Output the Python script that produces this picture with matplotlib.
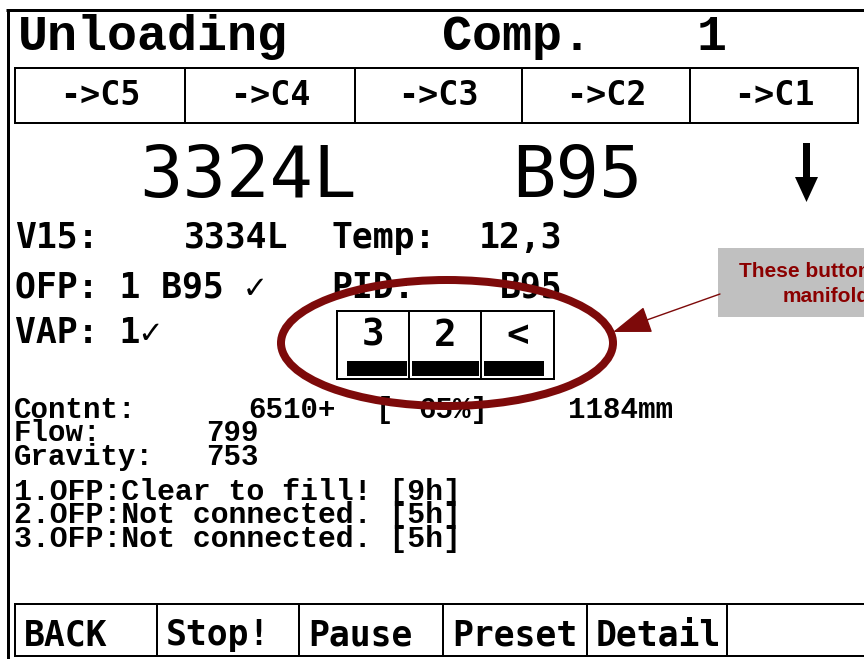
import re
import matplotlib
matplotlib.use("Agg")
import matplotlib.pyplot as plt
from matplotlib.patches import Rectangle, Ellipse, FancyArrowPatch, ArrowStyle
from matplotlib import font_manager

# ---------------- data (screen content) ----------------
title_text = "Unloading Comp. 1"
tab_labels = ["->C5", "->C4", "->C3", "->C2", "->C1"]
volume_text = "3324L"
product_text = "B95"
info_lines = ["V15:    3334L  Temp:  12,3",
              "OFP: 1 B95 \u2713   PID:    B95",
              "VAP: 1\u2713"]
manifold_buttons = ["3", "2", "<"]
status_lines = ["Contnt:    6510+ [ 65%]   1184mm",
                "Flow:    799",
                "Gravity: 753"]
log_lines = ["1.OFP:Clear to fill! [9h]",
             "2.OFP:Not connected. [5h]",
             "3.OFP:Not connected. [5h]"]
bottom_buttons = ["BACK", "Stop!", "Pause", "Preset", "Detail", ""]
callout_lines = ["These buttons select", "manifold"]

# ---------------- layout ----------------
W, H = 864, 659
DPI = 100
PX = 72.0 / DPI          # points per pixel
tab_edges = [15, 185, 355, 522, 690, 858]
tab_top, tab_bot = 68, 123
btn_edges = [337, 409, 481, 554]
btn_top, btn_bot = 311, 379
bottom_edges = [15, 157, 299, 443, 587, 727, W + 40]
bottom_top, bottom_bot = 604, 656
DARKRED = "#7d0a0a"

names = {f.name for f in font_manager.fontManager.ttflist}
def pick(cands):
    for c in cands:
        if c in names:
            return c
    return cands[-1]

MONO_B = ["DejaVu Sans Mono", "DejaVu Sans"]
SMALL = pick(["Liberation Mono", "DejaVu Sans Mono"])
CALL = pick(["Liberation Sans Narrow", "Liberation Sans", "DejaVu Sans"])

fig = plt.figure(figsize=(W / DPI, H / DPI), dpi=DPI)
ax = fig.add_axes([0, 0, 1, 1])
ax.set_xlim(0, W)
ax.set_ylim(H, 0)
ax.axis("off")

FIELDS = r"\S+(?: \S+)*"   # fields separated by 2+ spaces
WORDS = r"\S+"


def grid_text(line, x0, y, pitch, pattern=FIELDS, **kw):
    """Render a line on the LCD character grid: each field starts at its column."""
    for m in re.finditer(pattern, line):
        ax.text(x0 + m.start() * pitch, y, m.group(), va="baseline", ha="left", **kw)


lw_frame = 3 * PX
lw_box = 2 * PX

# outer frame (top + left)
ax.plot([7.5, 7.5], [8.5, H + 5], color="black", lw=lw_frame, solid_capstyle="butt")
ax.plot([6, W + 5], [10, 10], color="black", lw=lw_frame, solid_capstyle="butt")

# title
grid_text(title_text, 18, 50, 42.4, pattern=WORDS, family=SMALL, fontsize=36,
          fontweight="bold")

# tab row
ax.add_patch(Rectangle((tab_edges[0], tab_top), tab_edges[-1] - tab_edges[0],
                       tab_bot - tab_top, fill=False, ec="black", lw=lw_box))
for xe in tab_edges[1:-1]:
    ax.plot([xe, xe], [tab_top, tab_bot], color="black", lw=lw_box)
for i, lab in enumerate(tab_labels):
    cx = (tab_edges[i] + tab_edges[i + 1]) / 2
    ax.text(cx, 105, lab, family=MONO_B, fontweight="bold", fontsize=24,
            ha="center", va="baseline")

# big line
ax.text(248, 197, volume_text, family="DejaVu Sans Mono", fontsize=52,
        va="baseline", ha="center")
ax.text(577, 197, product_text, family="DejaVu Sans Mono", fontsize=52,
        va="baseline", ha="center")
ax.arrow(806.5, 143, 0, 59, width=7, head_width=23, head_length=25,
         length_includes_head=True, color="black", lw=0)

# info lines
for txt, yb in zip(info_lines, [248, 298, 343]):
    grid_text(txt, 15, yb, 21.1, family=MONO_B, fontweight="bold", fontsize=25)

# manifold buttons
ax.add_patch(Rectangle((btn_edges[0], btn_top), btn_edges[-1] - btn_edges[0],
                       btn_bot - btn_top, fill=False, ec="black", lw=lw_box))
for xe in btn_edges[1:-1]:
    ax.plot([xe, xe], [btn_top, btn_bot], color="black", lw=lw_box)
n = len(manifold_buttons)
for i, lab in enumerate(manifold_buttons):
    cx = (btn_edges[i] + btn_edges[i + 1]) / 2
    ax.text(cx, 346, lab, family=MONO_B, fontweight="bold", fontsize=27,
            ha="center", va="baseline")
    x0 = btn_edges[i] + (10 if i == 0 else 2.5)
    x1 = btn_edges[i + 1] - (10 if i == n - 1 else 2.5)
    ax.add_patch(Rectangle((x0, 361), x1 - x0, 15, color="black", lw=0))

# status + log lines (small LCD font)
for txt, yb in zip(status_lines, [418, 441, 465]):
    grid_text(txt, 14, yb, 21.3, pattern=WORDS, family=SMALL, fontweight="bold",
              fontsize=21)
for txt, yb in zip(log_lines, [500, 523, 547]):
    grid_text(txt, 14, yb, 21.3, family=SMALL, fontweight="bold", fontsize=21.5)

# bottom button row
ax.plot([bottom_edges[0], W + 5], [bottom_top, bottom_top], color="black", lw=lw_box)
ax.plot([bottom_edges[0], W + 5], [bottom_bot, bottom_bot], color="black", lw=lw_box)
for xe in bottom_edges[:-1]:
    ax.plot([xe, xe], [bottom_top, bottom_bot], color="black", lw=lw_box)
for i, lab in enumerate(bottom_buttons):
    ax.text(bottom_edges[i] + 9, 645, lab, family=MONO_B, fontweight="bold",
            fontsize=25, va="baseline", ha="left")

# callout
ax.add_patch(Rectangle((718, 248), 250, 69, fc="#c0c0c0", ec="none", zorder=5))
ax.text(739, 277, callout_lines[0], family=CALL, fontweight="bold", fontsize=15,
        color="#8b0000", va="baseline", ha="left", zorder=6)
ax.text(783, 302, callout_lines[1], family=CALL, fontweight="bold", fontsize=15,
        color="#8b0000", va="baseline", ha="left", zorder=6)

arrow = FancyArrowPatch((720, 294), (613, 332),
                        arrowstyle=ArrowStyle("-|>", head_length=34 * PX, head_width=12 * PX),
                        mutation_scale=1, color=DARKRED, lw=1.4 * PX,
                        shrinkA=0, shrinkB=0, zorder=7)
ax.add_patch(arrow)

# highlight ellipse
ax.add_patch(Ellipse((447, 343), 332, 126, fill=False, ec=DARKRED,
                     lw=8 * PX, zorder=10))

fig.savefig("out.png", dpi=DPI)
